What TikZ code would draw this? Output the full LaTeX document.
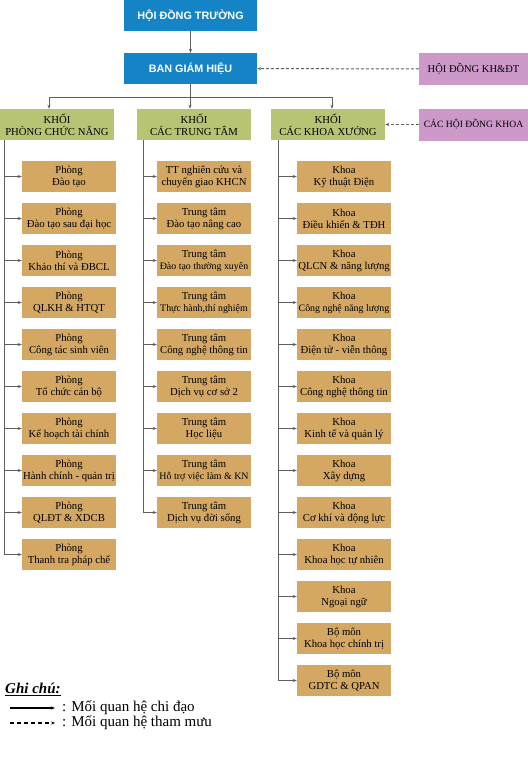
\documentclass[tikz,border=0pt]{standalone}
\usepackage{fontspec}
\setmainfont{Liberation Serif}
\newfontfamily\boardfont{Liberation Sans}
\usetikzlibrary{arrows.meta, positioning}
\definecolor{boardblue}{RGB}{20,132,198}
\definecolor{blockgreen}{RGB}{183,196,115}
\definecolor{unittan}{RGB}{212,168,98}
\definecolor{councilpink}{RGB}{204,153,200}
\definecolor{linegray}{RGB}{95,95,95}
\newcommand{\narrowline}[1]{{\fontsize{9.9}{12}\selectfont #1}}

\begin{document}
\begin{tikzpicture}[x=1pt, y=-1pt,
    board/.style={fill=boardblue, text=white, inner sep=0pt,
      font=\boardfont\bfseries\fontsize{10.8}{13}\selectfont,
      minimum width=133pt, minimum height=31pt},
    block/.style={fill=blockgreen, align=center, inner sep=0pt,
      font=\fontsize{10.7}{12}\selectfont,
      minimum width=114pt, minimum height=31pt},
    unit/.style={fill=unittan, align=center, inner sep=0pt,
      font=\fontsize{10.7}{12}\selectfont,
      minimum width=94pt, minimum height=31pt},
    council/.style={fill=councilpink, inner sep=0pt,
      font=\fontsize{10.5}{12}\selectfont,
      minimum width=109pt, minimum height=32pt},
    conn/.style={draw=linegray, line width=1pt},
    lead/.style={conn, -{Stealth[length=4pt, width=3pt]}},
    advise/.style={lead, dash pattern=on 3pt off 2pt}]
  \useasboundingbox (0,0) rectangle (528,780);

  % top level
  \node[board] (hdt) at (190.5,15.5) {HỘI ĐỒNG TRƯỜNG};
  \node[board] (bgh) at (190.5,68.5) {BAN GIÁM HIỆU};
  \node[council] (khdt) at (473.5,69) {HỘI ĐỒNG KH\&ĐT};
  \draw[lead] (hdt) -- (bgh);
  \draw[advise] (khdt) -- (bgh);

  % blocks
  \node[block] (k1) at (57,124.5) {KHỐI\\PHÒNG CHỨC NĂNG};
  \node[block] (k2) at (194,124.5) {KHỐI\\CÁC TRUNG TÂM};
  \node[block] (k3) at (328,124.5) {KHỐI\\CÁC KHOA XƯỞNG};
  \node[council, font=\fontsize{9.6}{12}\selectfont] (hdk) at (473.5,124.5)
    {CÁC HỘI ĐỒNG KHOA};
  \draw[advise] (hdk) -- (k3);

  \coordinate (bus) at (bgh.south |- 0,97);
  \coordinate (k1in) at ([xshift=-8pt]k1.north);
  \coordinate (k2in) at ([xshift=-4pt]k2.north);
  \coordinate (k3in) at ([xshift=4pt]k3.north);
  \draw[conn] (bgh.south) -- (bus);
  \foreach \k in {k1in, k2in, k3in}
    \draw[lead] (bus) -| (\k);

  \coordinate (s1) at ([xshift=5pt]k1.south west);
  \coordinate (s2) at ([xshift=7pt]k2.south west);
  \coordinate (s3) at ([xshift=8pt]k3.south west);

  % Khoi phong chuc nang
  \foreach \i/\txt in {1/{Phòng\\Đào tạo}, 2/{Phòng\\Đào tạo sau đại học},
      3/{Phòng\\Khảo thí và ĐBCL}, 4/{Phòng\\QLKH \& HTQT},
      5/{Phòng\\Công tác sinh viên}, 6/{Phòng\\Tổ chức cán bộ},
      7/{Phòng\\Kế hoạch tài chính}, 8/{Phòng\\Hành chính - quản trị},
      9/{Phòng\\QLĐT \& XDCB}, 10/{Phòng\\Thanh tra pháp chế}} {
    \pgfmathsetmacro{\ymid}{176.5 + 42*(\i-1)}
    \node[unit] (p\i) at (69,\ymid) {\txt};
    \draw[lead] (s1 |- p\i.west) -- (p\i.west);
  }
  \draw[conn] (s1) -- (s1 |- p10.west);

  % Khoi cac trung tam
  \foreach \i/\txt in {1/{TT nghiên cứu và\\chuyển giao KHCN},
      2/{Trung tâm\\Đào tạo nâng cao},
      3/{Trung tâm\\\narrowline{Đào tạo thường xuyên}},
      4/{Trung tâm\\\narrowline{Thực hành,thí nghiệm}},
      5/{Trung tâm\\Công nghệ thông tin}, 6/{Trung tâm\\Dịch vụ cơ sở 2},
      7/{Trung tâm\\Học liệu},
      8/{Trung tâm\\\narrowline{Hỗ trợ việc làm \& KN}},
      9/{Trung tâm\\Dịch vụ đời sống}} {
    \pgfmathsetmacro{\ymid}{176.5 + 42*(\i-1)}
    \node[unit] (t\i) at (204,\ymid) {\txt};
    \draw[lead] (s2 |- t\i.west) -- (t\i.west);
  }
  \draw[conn] (s2) -- (s2 |- t9.west);

  % Khoi cac khoa xuong
  \foreach \i/\txt in {1/{Khoa\\Kỹ thuật Điện}, 2/{Khoa\\Điều khiển \& TĐH},
      3/{Khoa\\QLCN \& năng lượng}, 4/{Khoa\\\narrowline{Công nghệ năng lượng}},
      5/{Khoa\\Điện tử - viễn thông}, 6/{Khoa\\Công nghệ thông tin},
      7/{Khoa\\Kinh tế và quản lý}, 8/{Khoa\\Xây dựng},
      9/{Khoa\\Cơ khí và động lực}, 10/{Khoa\\Khoa học tự nhiên},
      11/{Khoa\\Ngoại ngữ}, 12/{Bộ môn\\Khoa học chính trị},
      13/{Bộ môn\\GDTC \& QPAN}} {
    \pgfmathsetmacro{\ymid}{176.5 + 42*(\i-1)}
    \node[unit] (f\i) at (344,\ymid) {\txt};
    \draw[lead] (s3 |- f\i.west) -- (f\i.west);
  }
  \draw[conn] (s3) -- (s3 |- f13.west);

  % legend
  \node[anchor=west, inner sep=2pt, font=\bfseries\itshape\fontsize{15}{18}\selectfont]
    (note) at (3,689) {\underline{Ghi chú:}};
  \node[anchor=west, inner sep=2pt, font=\fontsize{15}{18}\selectfont]
    (rel1) at (60,708) {: Mối quan hệ chi đạo};
  \node[anchor=west, inner sep=2pt, font=\fontsize{15}{18}\selectfont]
    (rel2) at (60,723) {: Mối quan hệ tham mưu};
  \coordinate (rel1a) at (10,708);
  \coordinate (rel2a) at (10,723);
  \draw[lead, draw=black, line width=1.1pt] (rel1a) -- ([xshift=-5pt]rel1.west);
  \draw[lead, draw=black, line width=1.1pt, dash pattern=on 4pt off 3pt]
    (rel2a) -- ([xshift=-5pt]rel2.west);
\end{tikzpicture}
\end{document}
